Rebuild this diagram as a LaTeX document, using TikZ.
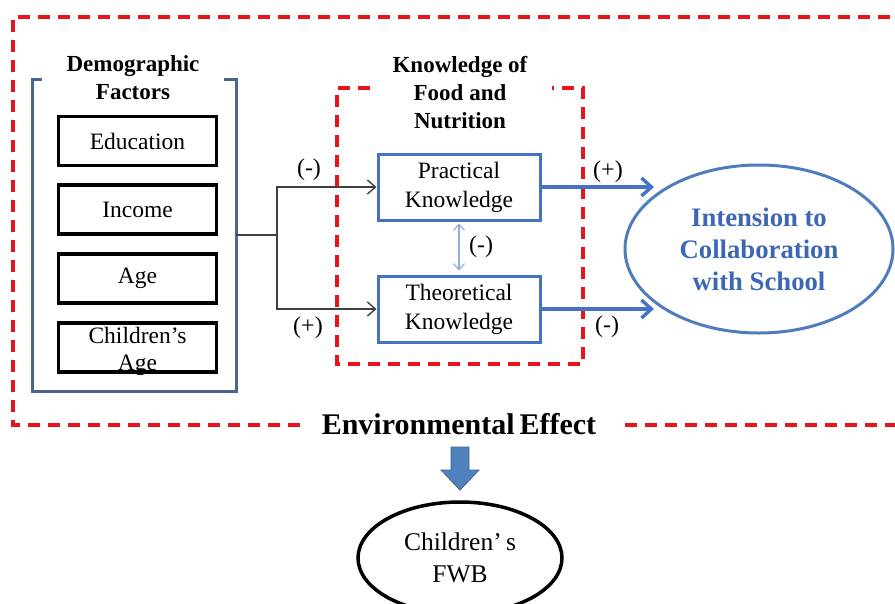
\documentclass[tikz,border=0pt]{standalone}
\usepackage{fontspec}
\setmainfont{Liberation Serif}
\usetikzlibrary{arrows.meta,shapes.geometric}

\definecolor{dashred}{HTML}{E8141B}
\definecolor{slateblue}{HTML}{4A6690}
\definecolor{boxblue}{HTML}{4472C4}
\definecolor{ovalblue}{HTML}{4F7DBC}
\definecolor{ovaltext}{HTML}{3D67B4}
\definecolor{linkblue}{HTML}{95AEDC}
\definecolor{wire}{HTML}{404040}
\definecolor{blockfill}{HTML}{4F81BD}
\definecolor{blockedge}{HTML}{3A6596}

\tikzset{
  redframe/.style={draw=dashred, line width=3.3pt, dash pattern=on 12pt off 8pt},
  factorbox/.style={draw=black, line width=3.5pt, minimum width=158pt, minimum height=49pt,
    inner sep=0pt, align=center, font=\fontsize{23.5}{28}\selectfont},
  knowbox/.style={draw=boxblue, line width=3pt, minimum width=162pt, minimum height=66pt,
    inner sep=0pt, align=center, font=\fontsize{23.5}{29}\selectfont},
  heading/.style={align=center, font=\bfseries\fontsize{23}{28}\selectfont},
  sign/.style={font=\fontsize{24}{26}\selectfont, inner sep=0pt},
  wirearrow/.style={draw=wire, line width=1.4pt, -{Straight Barb[length=8pt,width=14pt,line width=1.4pt]}},
  bluearrow/.style={draw=boxblue, line width=3.4pt, -{Straight Barb[length=10pt,width=18pt,line width=3.4pt]}},
}

\begin{document}
\begin{tikzpicture}[x=1pt,y=-1pt]
\useasboundingbox (0,0) rectangle (895,603);

% outer frame, open under the caption
\draw[redframe] (300,425) -- (13,425) -- (13,17) -- (905,17);
\draw[redframe] (625,425) -- (905,425);
\node[font=\bfseries\fontsize{30}{32}\selectfont, inner sep=0pt] (env) at (459,424) {Environmental\,Effect};

% demographic factors group
\node[heading] (demotitle) at (133,78) {Demographic\\Factors};
\draw[slateblue, line width=3pt] (42,79) -- (32,79) -- (32,391) -- (236,391) -- (236,79) -- (224,79);
\node[factorbox] (edu) at (137.5,141) {Education};
\node[factorbox] (inc) at (137.5,209.5) {Income};
\node[factorbox] (age) at (137.5,278.5) {Age};
\node[factorbox, label={[yshift=-4pt, align=center, font=\fontsize{23.5}{27}\selectfont]center:Children’s\\Age}] (cage) at (137.5,347.5) {};
\coordinate (demoR) at (236,235);
\coordinate (fork) at (277,235);

% knowledge group
\node[heading] (knowtitle) at (460,93) {Knowledge of\\Food and\\Nutrition};
\draw[redframe] (370,88) -- (337,88) -- (337,364) -- (583,364) -- (583,88) -- (552,88);
\node[knowbox] (prac) at (459,187) {Practical\\Knowledge};
\node[knowbox] (theo) at (459,309) {Theoretical\\Knowledge};

% links from demographics to knowledge
\draw[draw=wire, line width=1.4pt] (demoR) -- (fork);
\draw[wirearrow] (fork) |- (prac.west);
\draw[wirearrow] (fork) |- (theo.west);
\node[sign] (s1) at (309,170) {(-)};
\node[sign] (s2) at (308,328) {(+)};

% link between the two kinds of knowledge
\draw[draw=linkblue, line width=1.2pt, {Straight Barb[length=6pt,width=11pt]}-{Straight Barb[length=6pt,width=11pt]}, shorten <=2pt, shorten >=4pt] (prac.south) -- (theo.north);
\node[sign] (s3) at (481,247) {(-)};

% intention oval
\node[draw=ovalblue, line width=3pt, ellipse, minimum width=268pt, minimum height=168pt, inner sep=0pt,
  align=center, text=ovaltext, font=\bfseries\fontsize{26.7}{32}\selectfont] (intent) at (759,249)
  {Intension to\\Collaboration\\with School};
\coordinate (inTop) at (654,187);
\coordinate (inBot) at (654,309);
\draw[bluearrow] (prac.east) -- (inTop);
\draw[bluearrow] (theo.east) -- (inBot);
\node[sign] (s4) at (608,172) {(+)};
\node[sign] (s5) at (607,327) {(-)};

% block arrow down to the outcome
\filldraw[fill=blockfill, draw=blockedge, line width=0.8pt]
  (451,447) -- (469,447) -- (469,470) -- (479,470) -- (460,490) -- (441,470) -- (451,470) -- cycle;

% outcome oval
\node[draw=black, line width=3.5pt, ellipse, minimum width=204pt, minimum height=112pt, inner sep=0pt,
  align=center, font=\fontsize{25.5}{32}\selectfont] (fwb) at (460,558) {Children’\,s\\FWB};
\end{tikzpicture}
\end{document}
